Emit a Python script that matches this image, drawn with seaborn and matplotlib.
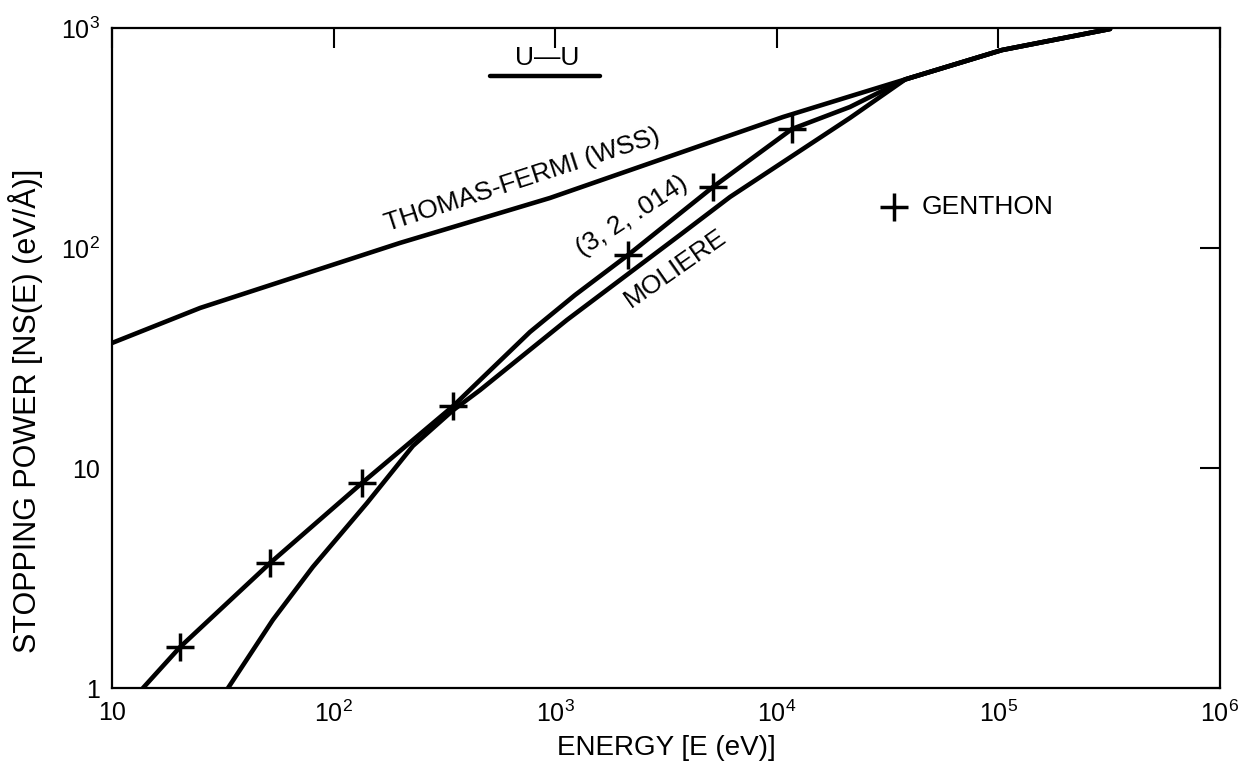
import matplotlib
matplotlib.use("Agg")
import matplotlib.pyplot as plt
import matplotlib.ticker as mticker
import seaborn as sns
import pandas as pd

# ---- data ----
tf_energy = [10, 25, 199, 947, 10670, 21380, 38000, 103800, 319000]
tf_power = [37.0, 53.4, 105.4, 168.8, 394, 489, 584, 794, 990]

lj_energy = [13.8, 20.3, 51.7, 134.3, 346, 458, 769, 1228, 2131, 5150, 11710, 21380, 38000, 103800, 319000]
lj_power = [1.0, 1.536, 3.70, 8.55, 19.1, 25.1, 41.5, 61.1, 92.9, 189.3, 347.5, 437.5, 584, 794, 990]

mol_energy = [33.4, 53.2, 80.6, 141.5, 228, 346, 458, 1130, 3656, 6150, 21380, 38000, 103800, 319000]
mol_power = [1.0, 2.04, 3.55, 6.93, 12.6, 18.3, 22.6, 47.1, 114.6, 170.6, 390, 584, 794, 990]

genthon_energy = [20.3, 51.7, 134.3, 346, 2131, 5150, 11710]
genthon_power = [1.536, 3.70, 8.55, 19.1, 92.9, 189.3, 347.5]

x_ticks = [10, 1e2, 1e3, 1e4, 1e5, 1e6]
x_ticklabels = ["10", "$10^2$", "$10^3$", "$10^4$", "$10^5$", "$10^6$"]
y_ticks = [1, 10, 1e2, 1e3]
y_ticklabels = ["1", "10", "$10^2$", "$10^3$"]

sns.set_theme(style="white")
plt.rcParams["font.family"] = ["Liberation Sans", "DejaVu Sans"]
plt.rcParams["mathtext.fontset"] = "custom"
plt.rcParams["mathtext.rm"] = "Liberation Sans"
plt.rcParams["mathtext.it"] = "Liberation Sans:italic"
plt.rcParams["mathtext.bf"] = "Liberation Sans:bold"
plt.rcParams["text.color"] = "black"
plt.rcParams["axes.labelcolor"] = "black"
plt.rcParams["xtick.color"] = "black"
plt.rcParams["ytick.color"] = "black"

fig = plt.figure(figsize=(12.41, 7.68), dpi=100)
ax = fig.add_axes([112 / 1241, 1 - 688 / 768, (1220 - 112) / 1241, (688 - 28) / 768])

lw = 3.3
for e, p in [(tf_energy, tf_power), (lj_energy, lj_power), (mol_energy, mol_power)]:
    df = pd.DataFrame({"E": e, "S": p})
    sns.lineplot(data=df, x="E", y="S", sort=False, estimator=None, color="black",
                 linewidth=lw, ax=ax, solid_capstyle="round", solid_joinstyle="round")

gdf = pd.DataFrame({"E": genthon_energy, "S": genthon_power})
sns.scatterplot(data=gdf, x="E", y="S", marker="+", s=430, color="black",
                linewidth=2.5, ax=ax, label="GENTHON", zorder=5)

ax.set_xscale("log")
ax.set_yscale("log")
ax.set_xlim(10, 1e6)
ax.set_ylim(1, 1e3)

ax.xaxis.set_major_locator(mticker.FixedLocator(x_ticks))
ax.xaxis.set_minor_locator(mticker.NullLocator())
ax.yaxis.set_major_locator(mticker.FixedLocator(y_ticks))
ax.yaxis.set_minor_locator(mticker.NullLocator())
ax.set_xticklabels(x_ticklabels, fontsize=18, color="black")
ax.set_yticklabels(y_ticklabels, fontsize=18, color="black")

ax.tick_params(axis="both", which="major", direction="in", length=14.5, width=1.5,
               top=True, right=True, colors="black", pad=9)
for s in ax.spines.values():
    s.set_linewidth(1.6)
    s.set_color("black")

ax.set_xlabel("ENERGY [E (eV)]", fontsize=20, color="black", labelpad=6)
ax.set_ylabel("STOPPING POWER [NS(E) (eV/Å)]", fontsize=22, color="black")
ax.yaxis.set_label_coords(-0.062, 0.42)

# curve labels
ax.text(708, 204, "THOMAS-FERMI (WSS)", rotation=18, rotation_mode="anchor",
        ha="center", va="center", fontsize=19, color="black")
ax.text(2220, 140, "(3, 2, .014)", rotation=33, rotation_mode="anchor",
        ha="center", va="center", fontsize=19, color="black")
ax.text(3480, 81, "MOLIERE", rotation=35, rotation_mode="anchor",
        ha="center", va="center", fontsize=19, color="black")

# U-U title with underline
ax.text(0.393, 0.955, "U\u2014U", transform=ax.transAxes, ha="center", va="center",
        fontsize=19, color="black")
ax.plot([0.341, 0.440], [0.927, 0.927], transform=ax.transAxes, color="black",
        linewidth=3.2, solid_capstyle="round")

leg = ax.legend(loc="center left", bbox_to_anchor=(0.688, 0.729), frameon=False,
                fontsize=19, handlelength=1.5, handletextpad=0.3, borderpad=0,
                borderaxespad=0)
for t in leg.get_texts():
    t.set_color("black")

fig.savefig("out.png", dpi=100)
